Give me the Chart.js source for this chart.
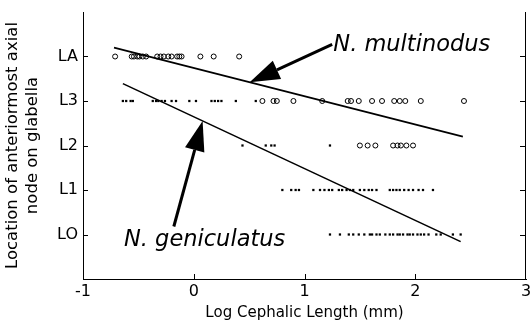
<!DOCTYPE html>
<html><head><meta charset="utf-8">
<script src="https://cdn.jsdelivr.net/npm/chart.js@4/dist/chart.umd.min.js"></script>
<style>html,body{margin:0;padding:0;background:#fff}canvas{display:block}</style>
</head><body><canvas id="c" width="531" height="326"></canvas>
<script>
// Level tick labels (value 0..4)
const yTickLabels = ['LO', 'L1', 'L2', 'L3', 'LA'];
const xTickValues = [-1, 0, 1, 2, 3];

// N. multinodus (open circles): log cephalic length per node level
const multinodusLA = [-0.71,-0.56,-0.54,-0.51,-0.49,-0.46,-0.43,-0.33,-0.30,-0.27,-0.23,-0.20,-0.15,-0.13,-0.11,0.06,0.18,0.41];
const multinodusL3 = [0.62,0.72,0.75,0.90,1.16,1.39,1.42,1.49,1.61,1.70,1.81,1.86,1.91,2.05,2.44];
const multinodusL2 = [1.50,1.57,1.64,1.80,1.84,1.87,1.92,1.98];

// N. geniculatus (small filled marks)
const geniculatusL3 = [-0.64,-0.61,-0.57,-0.55,-0.37,-0.34,-0.32,-0.29,-0.26,-0.20,-0.16,-0.04,0.02,0.16,0.19,0.22,0.25,0.38,0.56];
const geniculatusL2 = [0.44,0.65,0.70,0.73,1.23];
const geniculatusL1 = [0.80,0.88,0.92,0.95,1.08,1.14,1.18,1.22,1.25,1.31,1.34,1.38,1.41,1.44,1.50,1.54,1.58,1.61,1.65,1.77,1.80,1.83,1.86,1.90,1.94,1.98,2.03,2.07,2.16];
const geniculatusLO = [1.23,1.32,1.40,1.44,1.49,1.54,1.59,1.61,1.65,1.68,1.73,1.77,1.80,1.84,1.86,1.89,1.93,1.95,1.98,2.02,2.05,2.08,2.12,2.19,2.23,2.34,2.41];

// Regression line end points [x, y]
const multinodusFit = [[-0.72, 4.20], [2.43, 2.20]];
const geniculatusFit = [[-0.64, 3.39], [2.41, -0.16]];

// Annotation arrows (data coords): tail -> tip, and label anchor
const multinodusArrow = {tail: [1.25, 4.27], tip: [0.505, 3.42], label: [1.26, 4.13], text: 'N. multinodus'};
const geniculatusArrow = {tail: [-0.18, 0.18], tip: [0.08, 2.55], label: [-0.63, -0.25], text: 'N. geniculatus'};

const pts = (xs, level) => xs.map(x => ({x: x, y: level}));
const FONT = 'DejaVu Sans';

const multinodusPts = [].concat(pts(multinodusLA, 4), pts(multinodusL3, 3), pts(multinodusL2, 2));
const geniculatusPts = [].concat(pts(geniculatusL3, 3), pts(geniculatusL2, 2), pts(geniculatusL1, 1), pts(geniculatusLO, 0));

const frame = {
  id: 'frame',
  afterDraw(chart) {
    const {ctx, chartArea: a, scales: {x, y}} = chart;
    ctx.save();
    ctx.fillStyle = '#000';
    const L = Math.round(a.left), R = Math.round(a.right), T = Math.round(a.top), B = Math.round(a.bottom);
    // right axis line
    ctx.fillRect(R - 1, T, 1, B - T);
    // inward ticks
    for (let v = 0; v < yTickLabels.length; v++) {
      const py = Math.round(y.getPixelForValue(v));
      ctx.fillRect(L, py, 5, 1);
      ctx.fillRect(R - 6, py, 5, 1);
    }
    xTickValues.forEach(v => {
      const px = Math.min(Math.round(x.getPixelForValue(v)), R - 1);
      ctx.fillRect(px, B - 5, 1, 5);
    });

    // arrows and labels
    ctx.strokeStyle = '#000';
    [multinodusArrow, geniculatusArrow].forEach(ar => {
      const tx = x.getPixelForValue(ar.tail[0]), ty = y.getPixelForValue(ar.tail[1]);
      const hx = x.getPixelForValue(ar.tip[0]), hy = y.getPixelForValue(ar.tip[1]);
      const ang = Math.atan2(hy - ty, hx - tx);
      const len = 30, hw = 10;
      const bx = hx - len * Math.cos(ang), by = hy - len * Math.sin(ang);
      ctx.lineWidth = 3;
      ctx.beginPath(); ctx.moveTo(tx, ty); ctx.lineTo(bx, by); ctx.stroke();
      ctx.beginPath();
      ctx.moveTo(hx, hy);
      ctx.lineTo(bx + hw * Math.sin(ang), by - hw * Math.cos(ang));
      ctx.lineTo(bx - hw * Math.sin(ang), by + hw * Math.cos(ang));
      ctx.closePath(); ctx.fill();
      ctx.font = 'italic 22.5px "' + FONT + '"';
      ctx.textAlign = 'left'; ctx.textBaseline = 'alphabetic';
      ctx.fillText(ar.text, x.getPixelForValue(ar.label[0]), y.getPixelForValue(ar.label[1]));
    });
    ctx.restore();
  }
};

new Chart(document.getElementById('c'), {
  type: 'scatter',
  data: {
    datasets: [
      {label: 'N. multinodus fit', data: multinodusFit.map(p => ({x: p[0], y: p[1]})), showLine: true, borderColor: '#000', borderWidth: 1.6, pointRadius: 0},
      {label: 'N. geniculatus fit', data: geniculatusFit.map(p => ({x: p[0], y: p[1]})), showLine: true, borderColor: '#000', borderWidth: 1.6, pointRadius: 0},
      {label: 'N. multinodus', data: multinodusPts, pointStyle: 'circle', pointRadius: 2.5, borderWidth: 1, borderColor: '#000', backgroundColor: 'rgba(255,255,255,0)'},
      {label: 'N. geniculatus', data: geniculatusPts, pointStyle: 'rect', pointRadius: 1.6, borderWidth: 0, borderColor: '#000', backgroundColor: '#000'}
    ]
  },
  options: {
    responsive: false,
    animation: false,
    events: [],
    layout: {padding: {left: 0, right: 4, top: 12, bottom: 0}},
    plugins: {legend: {display: false}, tooltip: {enabled: false}},
    scales: {
      x: {
        type: 'linear', min: -1, max: 3,
        afterBuildTicks: s => { s.ticks = xTickValues.map(v => ({value: v})); },
        afterFit: s => { s.height = 47; s.paddingLeft = 0; s.paddingRight = 0; },
        grid: {display: false, drawTicks: false},
        border: {display: true, color: '#000', width: 1},
        ticks: {color: '#000', padding: 3, font: {family: FONT, size: 16}, maxRotation: 0},
        title: {display: true, text: 'Log Cephalic Length (mm)', color: '#000', font: {family: FONT, size: 15}, padding: {top: 0, bottom: 4}}
      },
      y: {
        type: 'linear', min: -1, max: 5,
        afterBuildTicks: s => { s.ticks = yTickLabels.map((t, i) => ({value: i})); },
        afterFit: s => { s.width = 83; s.paddingTop = 0; s.paddingBottom = 0; },
        grid: {display: false, drawTicks: false},
        border: {display: true, color: '#000', width: 1},
        ticks: {color: '#000', padding: 5, font: {family: FONT, size: 16}, callback: v => yTickLabels[v] ?? ''},
        title: {display: true, text: ['Location of anteriormost axial', 'node on glabella'], color: '#000', font: {family: FONT, size: 16.5, lineHeight: 1.22}, padding: {top: 3, bottom: 0}}
      }
    }
  },
  plugins: [frame]
});
</script>
</body></html>
